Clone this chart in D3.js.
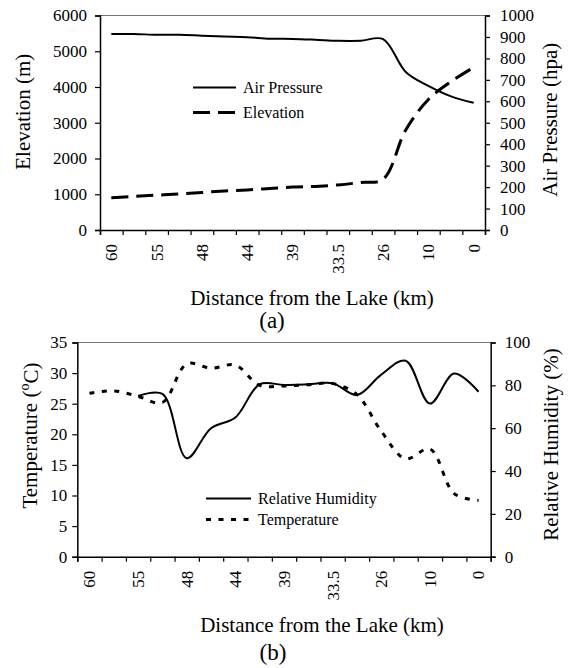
<!DOCTYPE html>
<html>
<head>
<meta charset="utf-8">
<script src="https://cdn.jsdelivr.net/npm/d3@7"></script>
<style>
  body { margin: 0; background: #fff; }
  svg text { font-family: "Liberation Serif", serif !important; fill: #000; }
</style>
</head>
<body>
<svg width="569" height="668"></svg>
<script>
// categories along the x axis (only every other one carries a label)
const categories = ["60", "", "55", "", "48", "", "44", "", "39", "", "33.5", "", "26", "", "10", "", "0"];

// (a) elevation (m) and air pressure (hpa)
const elevation = [900, 940, 975, 1010, 1050, 1090, 1120, 1160, 1200, 1220, 1260, 1330, 1420, 2800, 3650, 4150, 4550];
const airPressure = [914, 914, 910, 910, 906, 902, 899, 892, 891, 887, 882, 882, 890, 737, 672, 623, 593];

// (b) temperature (C) and relative humidity (%)
const temperature = [26.7, 27.1, 26.2, 25.2, 31.5, 30.8, 31.3, 28.0, 27.9, 28.1, 28.3, 26.5, 20.5, 16.0, 17.6, 10.3, 9.2];
const humidity = [null, null, 75, 76, 46, 60, 65, 80.5, 80.2, 80.5, 81, 75.5, 85, 91.5, 71.5, 85.5, 77];

const elevTicks = d3.range(0, 6001, 1000);
const presTicks = d3.range(0, 1001, 100);
const tempTicks = d3.range(0, 36, 5);
const humTicks = d3.range(0, 101, 20);

const svg = d3.select("svg");
const fmt = d3.format("d");

function panel(opt) {
  const g = svg.append("g");
  const x = d3.scaleBand().domain(d3.range(categories.length)).range([opt.left, opt.right]);
  const xt = d3.scaleLinear().domain([0, categories.length]).range([opt.left, opt.right]);
  const yL = d3.scaleLinear().domain(opt.leftDomain).range([opt.bottom, opt.top]);
  const yR = d3.scaleLinear().domain(opt.rightDomain).range([opt.bottom, opt.top]);

  // frame
  g.append("line")
    .attr("x1", opt.left).attr("x2", opt.right)
    .attr("y1", opt.top).attr("y2", opt.top)
    .attr("stroke", "#777").attr("stroke-width", 1);

  // left axis
  const ax1 = g.append("g").attr("transform", `translate(${opt.left},0)`)
    .call(d3.axisLeft(yL).tickValues(opt.leftTicks).tickFormat(fmt).tickSize(5).tickPadding(opt.padL));
  // right axis
  const ax2 = g.append("g").attr("transform", `translate(${opt.right},0)`)
    .call(d3.axisRight(yR).tickValues(opt.rightTicks).tickFormat(fmt).tickSize(5).tickPadding(opt.padR));
  // x axis tick marks between categories
  const ax3 = g.append("g").attr("transform", `translate(0,${opt.bottom})`)
    .call(d3.axisBottom(xt).tickValues(d3.range(categories.length + 1)).tickSize(5).tickFormat(""));
  // x axis labels
  const ax4 = g.append("g").attr("transform", `translate(0,${opt.bottom})`)
    .call(d3.axisBottom(x).tickSize(0).tickFormat(i => categories[i]));
  ax4.select(".domain").remove();
  ax4.selectAll("text")
    .attr("y", 0).attr("x", -14).attr("dy", "0.35em")
    .attr("transform", "rotate(-90)")
    .style("text-anchor", "end");

  [ax1, ax2, ax3].forEach(a => {
    a.select(".domain").attr("stroke", "#000").attr("stroke-width", 1.5);
    a.selectAll(".tick line").attr("stroke", "#000").attr("stroke-width", 1.2);
  });
  g.selectAll(".tick text").attr("font-size", 17);

  // series
  opt.series.forEach(s => {
    const y = s.axis === "left" ? yL : yR;
    const line = d3.line()
      .defined(d => d != null)
      .x((d, i) => x(i) + x.bandwidth() / 2)
      .y(d => y(d))
      .curve(d3.curveCatmullRom);
    g.append("path")
      .datum(s.values)
      .attr("fill", "none")
      .attr("stroke", "#000")
      .attr("stroke-width", s.width)
      .attr("stroke-dasharray", s.dash)
      .attr("d", line);
  });

  // legend
  opt.series.forEach((s, i) => {
    const ly = opt.legendY + i * opt.legendGap;
    g.append("line")
      .attr("x1", opt.legendX).attr("x2", opt.legendX + opt.legendLen)
      .attr("y1", ly).attr("y2", ly)
      .attr("stroke", "#000").attr("stroke-width", s.width)
      .attr("stroke-dasharray", s.dash);
    g.append("text")
      .attr("x", opt.legendX + opt.legendLen + 7).attr("y", ly)
      .attr("dy", "0.35em").attr("font-size", 16)
      .text(s.name);
  });

  // axis titles
  g.append("text")
    .attr("transform", `translate(${opt.leftTitleX},${(opt.top + opt.bottom) / 2 + opt.leftTitleDy}) rotate(-90)`)
    .attr("text-anchor", "middle").attr("dy", "0.35em").attr("font-size", 21)
    .call(opt.leftTitle);
  g.append("text")
    .attr("transform", `translate(${opt.rightTitleX},${(opt.top + opt.bottom) / 2 + opt.rightTitleDy}) rotate(-90)`)
    .attr("text-anchor", "middle").attr("dy", "0.35em").attr("font-size", 21)
    .text(opt.rightTitle);
  g.append("text")
    .attr("x", opt.xTitleX).attr("y", opt.xTitleY)
    .attr("text-anchor", "middle").attr("font-size", 21)
    .text("Distance from the Lake (km)");
  g.append("text")
    .attr("x", opt.tagX).attr("y", opt.tagY)
    .attr("text-anchor", "middle").attr("font-size", 23)
    .text(opt.tag);
}

panel({
  left: 100, right: 485, top: 15.5, bottom: 230,
  leftDomain: [0, 6000], rightDomain: [0, 1000],
  leftTicks: elevTicks, rightTicks: presTicks, padL: 8, padR: 10,
  series: [
    { name: "Air Pressure", values: airPressure, axis: "right", width: 2, dash: null },
    { name: "Elevation", values: elevation, axis: "left", width: 3, dash: "17,8" }
  ],
  legendX: 193, legendLen: 43, legendY: 87.5, legendGap: 25,
  leftTitle: t => t.text("Elevation (m)"), leftTitleX: 23, leftTitleDy: -11,
  rightTitle: "Air Pressure (hpa)", rightTitleX: 550, rightTitleDy: -3,
  xTitleX: 312, xTitleY: 305, tag: "(a)", tagX: 272, tagY: 328
});

panel({
  left: 77.3, right: 490.7, top: 342.5, bottom: 556.7,
  leftDomain: [0, 35], rightDomain: [0, 100],
  leftTicks: tempTicks, rightTicks: humTicks, padL: 5, padR: 9,
  series: [
    { name: "Relative Humidity", values: humidity, axis: "right", width: 2, dash: null },
    { name: "Temperature", values: temperature, axis: "left", width: 3, dash: "5,7.5" }
  ],
  legendX: 206, legendLen: 45, legendY: 498.5, legendGap: 21,
  leftTitle: t => {
    t.append("tspan").text("Temperature (");
    t.append("tspan").attr("font-size", 14).attr("dy", "-0.6em").text("o");
    t.append("tspan").attr("dy", "0.45em").text("C)");
  },
  leftTitleX: 30, leftTitleDy: -14,
  rightTitle: "Relative Humidity (%)", rightTitleX: 551, rightTitleDy: -5,
  xTitleX: 322, xTitleY: 632, tag: "(b)", tagX: 273, tagY: 660
});
</script>
</body>
</html>
